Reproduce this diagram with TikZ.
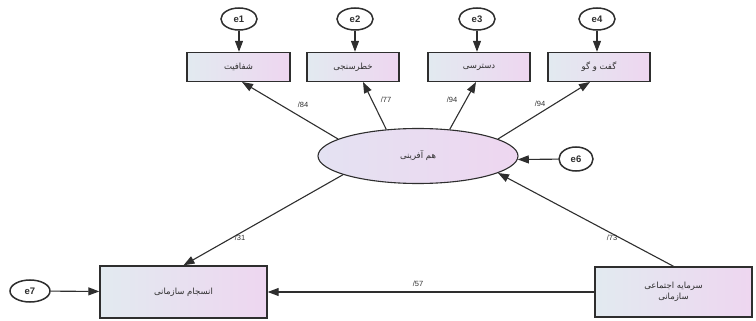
\documentclass[tikz,border=0pt]{standalone}
\usepackage{fontspec}
\setmainfont{Liberation Sans}
\newfontfamily\fa[Script=Arabic]{DejaVu Sans}
\TeXXeTstate=1
\usetikzlibrary{arrows.meta,shapes.geometric}
\definecolor{bl}{HTML}{E2EAF0}
\definecolor{pk}{HTML}{EED6F0}
\definecolor{el}{HTML}{E4E2F2}
\definecolor{ln}{HTML}{2E2E2E}
\tikzset{
  obs/.style={draw=ln, line width=1.4pt, left color=bl, right color=pk, rectangle, inner sep=1pt,
    font=\fa\fontsize{8.5}{11}\selectfont, align=center, text=ln},
  lat/.style={ellipse, draw=ln, line width=1.1pt, left color=el, right color=pk, minimum width=200pt, minimum height=55pt,
    font=\fa\fontsize{8.5}{11}\selectfont, text=ln},
  err/.style={ellipse, draw=ln, line width=1.5pt, fill=white, inner sep=0pt,
    font=\bfseries\fontsize{9.5}{11}\selectfont, text=ln},
  arr/.style={-{Triangle[length=11pt,width=8pt]}, line width=1.1pt, draw=ln},
  lbl/.style={font=\fontsize{7.5}{9}\selectfont, text=ln}
}
\begin{document}
\begin{tikzpicture}[x=1pt,y=-1pt]
\useasboundingbox (0,0) rectangle (756,321);
% error terms
\node[err, minimum width=36pt, minimum height=22pt] (e1) at (239,19) {e1};
\node[err, minimum width=36pt, minimum height=22pt] (e2) at (355,19) {e2};
\node[err, minimum width=36pt, minimum height=22pt] (e3) at (477,19) {e3};
\node[err, minimum width=36pt, minimum height=22pt] (e4) at (597,19) {e4};
\node[err, minimum width=34pt, minimum height=24pt] (e6) at (576,159) {e6};
\node[err, minimum width=40pt, minimum height=22pt] (e7) at (30,291) {e7};
% observed boxes
\node[obs, minimum width=103pt, minimum height=29pt] (b1) at (238.5,67) {\beginR شفافیت\endR};
\node[obs, minimum width=92pt, minimum height=29pt] (b2) at (353,67) {\beginR خطرسنجی\endR};
\node[obs, minimum width=102pt, minimum height=29pt] (b3) at (479,67) {\beginR دسترسی\endR};
\node[obs, minimum width=102pt, minimum height=29pt] (b4) at (599,67) {\beginR گفت و گو\endR};
\node[lat] (ha) at (418,156) {\beginR هم آفرینی\endR};
\node[obs, minimum width=167pt, minimum height=52pt] (l) at (183.5,292) {\beginR انسجام سازمانی\endR};
\node[obs, minimum width=157pt, minimum height=50pt] (r) at (673.5,292) {\beginR سرمایه اجتماعی\endR\\\beginR سازمانی\endR};
% error arrows
\draw[arr] (e1) -- (b1.north -| e1);
\draw[arr] (e2) -- (b2.north -| e2);
\draw[arr] (e3) -- (b3.north -| e3);
\draw[arr] (e4) -- (b4.north -| e4);
\draw[arr] (e6) -- (ha.358);
\draw[arr] (e7) -- (l);
% loadings
\coordinate (t1) at (242,82);
\coordinate (t2) at (363,82);
\coordinate (t3) at (476,82);
\coordinate (t4) at (590,82);
\draw[arr] (ha.168) -- (t1);
\draw[arr] (ha.140) -- (t2);
\draw[arr] (ha.40) -- (t3);
\draw[arr] (ha.12) -- (t4);
\draw[arr] (ha.194) -- (l.north);
\draw[arr] (r.north) -- (ha.348);
\draw[arr] (r.west) -- (l.east);
% labels
\node[lbl] (n1) at (303,105) {/84};
\node[lbl] (n2) at (386,100) {/77};
\node[lbl] (n3) at (452,100) {/94};
\node[lbl] (n4) at (540,104) {/94};
\node[lbl] (n5) at (240,238) {/31};
\node[lbl] (n6) at (612,238) {/73};
\node[lbl] (n7) at (418,284) {/57};
\end{tikzpicture}
\end{document}
